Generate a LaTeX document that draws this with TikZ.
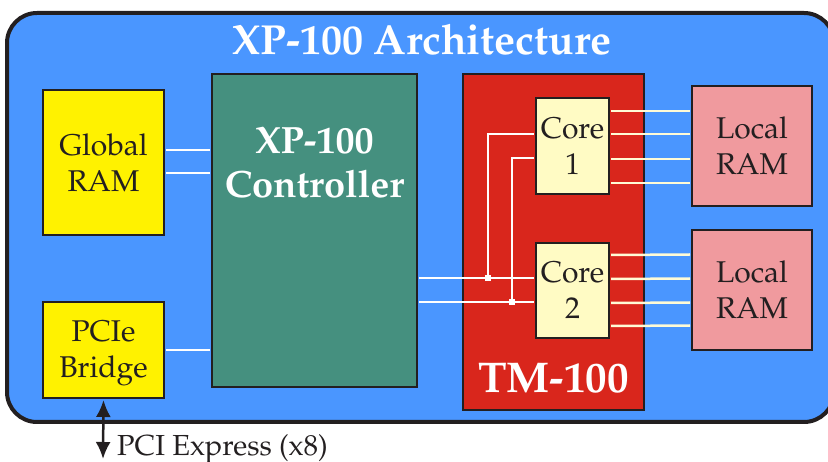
\documentclass[tikz,border=0pt]{standalone}
\usepackage[T1]{fontenc}
\usepackage{mathpazo}
\usetikzlibrary{arrows.meta,calc}
\definecolor{bgblue}{HTML}{4A96FF}
\definecolor{ink}{HTML}{231F20}
\definecolor{yel}{HTML}{FFF200}
\definecolor{teal}{HTML}{45907F}
\definecolor{tmred}{HTML}{D9261C}
\definecolor{corefill}{HTML}{FFFBC4}
\definecolor{ramfill}{HTML}{F09A9E}
\definecolor{cream}{HTML}{FFFBD6}
\tikzset{
  blk/.style={draw=ink, line width=2pt, inner sep=0pt, align=center, text=ink,
              font=\fontsize{30}{36}\selectfont},
  wire/.style={draw=white, line width=2pt},
  rwire/.style={draw=cream, line width=2.5pt},
  junc/.style={fill=white, draw=none, minimum size=6pt, inner sep=0pt},
}
\begin{document}
\begin{tikzpicture}[x=1pt,y=-1pt]
\useasboundingbox (0,0) rectangle (828,462);
\clip (0,0) rectangle (828,462);
% outer frame
\draw[draw=ink, fill=bgblue, line width=4pt, rounded corners=30pt] (7,13) rectangle (834,422);
\node[text=white, font=\bfseries\fontsize{42}{46}\selectfont, anchor=base] (title) at (422,55) {XP-100 Architecture};
% blocks
\node[blk, fill=yel, minimum width=121pt, minimum height=145pt] (gram) at (103.5,162.5) {Global\\RAM};
\node[blk, fill=yel, minimum width=121pt, minimum height=96pt] (pcie) at (103.5,350) {};
\node[text=ink, font=\fontsize{30}{36}\selectfont, align=center, anchor=base] (pcietxt) at (103.5,378) {PCIe\\Bridge};
\node[blk, fill=teal, minimum width=205pt, minimum height=313pt] (ctrl) at (314.5,230.5) {};
\node[text=white, font=\bfseries\fontsize{38}{44}\selectfont, align=center, anchor=base] (ctrltxt) at (314.5,198) {XP-100\\Controller};
\node[blk, fill=tmred, minimum width=181pt, minimum height=336pt] (tm) at (553.5,242) {};
\node[text=white, font=\bfseries\fontsize{43}{46}\selectfont, anchor=base] (tmtxt) at (553.5,393) {TM-100};
\node[blk, fill=corefill, minimum width=73pt, minimum height=96pt] (core1) at (572.5,146) {Core\\1};
\node[blk, fill=corefill, minimum width=73pt, minimum height=95pt] (core2) at (572.5,290.5) {Core\\2};
\node[blk, fill=ramfill, minimum width=120pt, minimum height=120pt] (ram1) at (752,146) {Local\\RAM};
\node[blk, fill=ramfill, minimum width=120pt, minimum height=120pt] (ram2) at (752,290) {Local\\RAM};
% global RAM and bridge to controller
\draw[wire] ($(gram.east)+(1,-12.5)$) -- ($(ctrl.west)+(-1,-80.5)$);
\draw[wire] ($(gram.east)+(1,10.5)$) -- ($(ctrl.west)+(-1,-57.5)$);
\draw[wire] ($(pcie.east)+(1,0)$) -- ($(ctrl.west)+(-1,119.5)$);
% controller to cores
\draw[wire] ($(ctrl.east)+(1,47.5)$) -- ($(core2.west)+(-1,-12.5)$);
\draw[wire] ($(ctrl.east)+(1,71.5)$) -- ($(core2.west)+(-1,11.5)$);
\coordinate (ja) at (488,278);
\coordinate (jb) at (512,302);
\draw[wire] (ja) -- (488,134) -- ($(core1.west)+(-1,-12)$);
\draw[wire] (jb) -- (512,158) -- ($(core1.west)+(-1,12)$);
\node[junc] (jna) at (ja) {};
\node[junc] (jnb) at (jb) {};
% cores to local RAM
\foreach \dy in {-35,-12,13,37} {
  \draw[rwire] ($(core1.east)+(1,\dy)$) -- ($(ram1.west)+(-1,\dy)$);
}
\foreach \dy in {-35.5,-11.5,12.5,35.5} {
  \draw[rwire] ($(core2.east)+(1,\dy)$) -- ($(ram2.west)+(-1,\dy)$);
}
% PCI express arrow
\coordinate (pciend) at (103,459);
\draw[draw=ink, line width=2.5pt, {Latex[length=17pt,width=15pt]}-{Latex[length=17pt,width=15pt]}] ($(pcie.south)+(0,1)$) -- (pciend);
\node[anchor=base west, text=ink, font=\fontsize{29}{30}\selectfont, inner sep=0pt] (pcilbl) at (117,455) {PCI Express (x8)};
\end{tikzpicture}
\end{document}
